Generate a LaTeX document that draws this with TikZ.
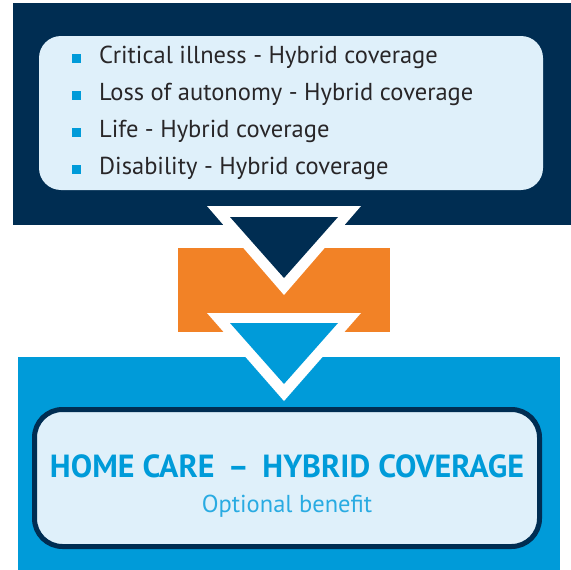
\documentclass[tikz,border=0pt]{standalone}
\usepackage{fontspec}
\setmainfont{PT Sans}
\definecolor{navy}{RGB}{0,45,82}
\definecolor{orng}{RGB}{242,130,38}
\definecolor{brand}{RGB}{0,155,217}
\definecolor{pale}{RGB}{223,240,250}
\definecolor{ink}{RGB}{40,38,40}
\definecolor{subblue}{RGB}{41,171,226}
\tikzset{
  item/.style={anchor=base west, inner sep=0pt, text=ink, font=\fontsize{24.5}{28}\selectfont},
  bulletsq/.style={fill=brand},
}
\begin{document}
\begin{tikzpicture}[x=1pt,y=-1pt]
\useasboundingbox (0,0) rectangle (571,570);
% bands
\fill[navy] (13,3) rectangle (571,225);
\fill[orng] (178,248) rectangle (390,332);
\fill[brand] (18,357) rectangle (560,570);
% top box
\fill[pale, rounded corners=22pt] (39,36) rectangle (543,190);
% items
\foreach \t [count=\i] in {Critical illness - Hybrid coverage, Loss of autonomy - Hybrid coverage, Life - Hybrid coverage, Disability - Hybrid coverage}{
  \pgfmathsetmacro{\yy}{63+37*(\i-1)}
  \node[item] (it\i) at (99,\yy) {\t};
  \fill[bulletsq] (72,\yy-9) rectangle (81,\yy);
}
% arrows
\fill[white] (207,206) -- (361,206) -- (284,295) -- cycle;
\fill[navy] (230,217) -- (338,217) -- (284,278) -- cycle;
\fill[white] (207,313) -- (361,313) -- (284,401) -- cycle;
\fill[brand] (230,323) -- (338,323) -- (284,384) -- cycle;
% bottom box
\draw[navy, line width=5pt, fill=pale, rounded corners=28pt] (34.5,409.5) rectangle (539.5,546.5);
\node[anchor=base, inner sep=0pt, text=brand, font=\bfseries\fontsize{32}{36}\selectfont] (title) at (287,477) {HOME CARE \,–\, HYBRID COVERAGE};
\node[anchor=base, inner sep=0pt, text=subblue, font=\fontsize{24.5}{28}\selectfont] (sub) at (287,512) {Optional benefit};
\end{tikzpicture}
\end{document}
